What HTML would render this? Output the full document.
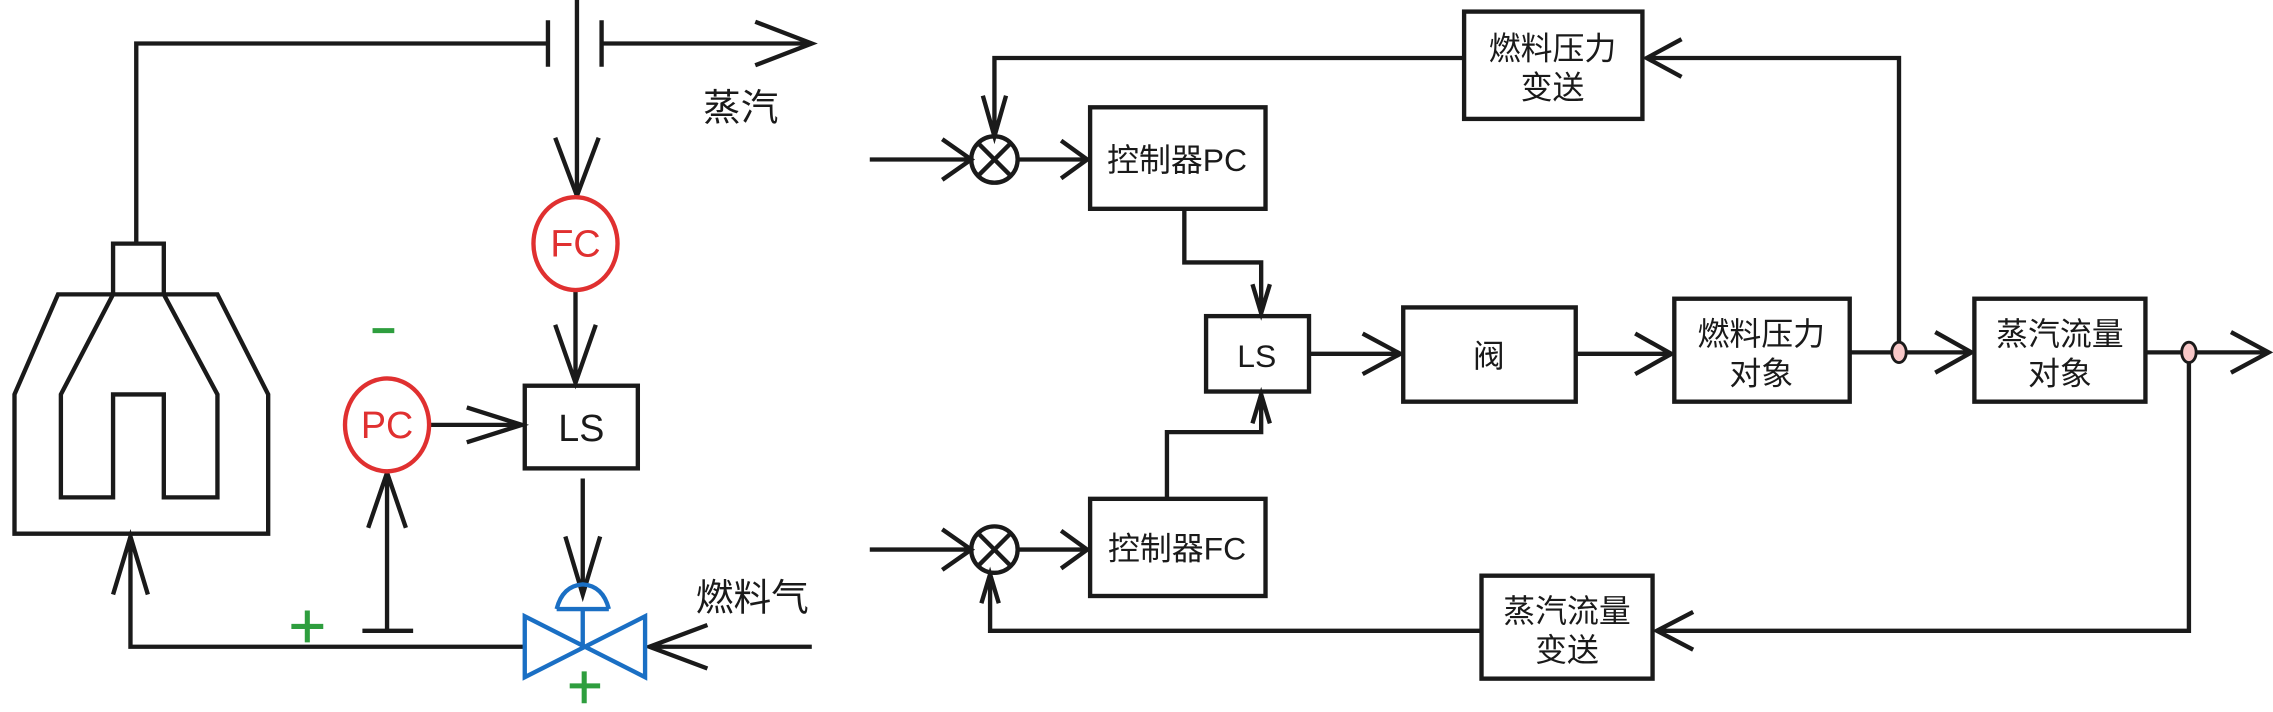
<!DOCTYPE html>
<html><head><meta charset="utf-8"><style>
html,body{margin:0;padding:0;background:#fff;}
svg{display:block;}
text{font-family:"Liberation Sans","Noto Sans CJK SC",sans-serif;}
</style></head><body>
<svg width="2273" height="712" viewBox="0 0 1568 491" preserveAspectRatio="none" xmlns="http://www.w3.org/2000/svg">
<g fill="none" stroke="#1a1a1a" stroke-width="3" stroke-linejoin="miter">
<path d="M94,168 V30 H378"/>
<path d="M378,14 V46 M415,14 V46 M398,0 V135 M415,30 H560"/>
<path d="M521,15 L560,30 L521,45"/>
<path d="M383,95 L398,135 L413,95"/>
<path d="M10,272 L40,203 H150 L185,272 V368 H10 Z"/>
<path d="M78,203 V168 H113 V203"/>
<path d="M78,203 L42,272 V343 H78 V272 H113 V343 H150 V272 L113,203"/>
<path d="M397,200 V264 M383,224 L397,264 L411,224"/>
<rect x="362" y="266" width="78" height="57"/>
<path d="M297,293 H360 M322,281 L360,293 L322,305"/>
<path d="M267,435 V326 M254,364 L267,326 L280,364 M250,435 H285"/>
<path d="M402,330 V410 M390,370 L402,410 L414,370"/>
<path d="M362,446 H90 V370 M78,410 L90,370 L102,410"/>
<path d="M560,446 H448 M488,431 L448,446 L488,461"/>

<path d="M600,110 H670 M650,96 L670,110 L650,124"/>
<path d="M702,110 H750 M732,97 L750,110 L732,123"/>
<circle cx="686" cy="110" r="16"/>
<path d="M675,99 L697,121 M697,99 L675,121"/>
<rect x="752" y="74" width="121" height="70"/>
<rect x="1010" y="8" width="123" height="74"/>
<path d="M1010,40 H686 V94 M678,66 L686,94 L694,66"/>
<path d="M1310,243 V40 H1136 M1160,27 L1136,40 L1160,53"/>
<path d="M817,144 V181 H870 V216 M864,196 L870,216 L876,196"/>
<rect x="832" y="218" width="71" height="52"/>
<path d="M903,244 H966 M940,230 L966,244 L940,258"/>
<rect x="968" y="212" width="119" height="65"/>
<path d="M1087,244 H1153 M1128,230 L1153,244 L1128,258"/>
<rect x="1155" y="206" width="121" height="71"/>
<path d="M1276,243 H1360 M1335,229 L1360,243 L1335,257"/>
<rect x="1362" y="206" width="118" height="71"/>
<path d="M1480,243 H1565 M1539,229 L1565,243 L1539,257"/>
<path d="M1510,243 V435 H1143 M1168,422 L1143,435 L1168,448"/>
<rect x="1022" y="397" width="118" height="71"/>
<path d="M1022,435 H683 V396 M677,416 L683,396 L689,416"/>
<path d="M600,379 H670 M650,365 L670,379 L650,393"/>
<path d="M702,379 H750 M732,366 L750,379 L732,392"/>
<circle cx="686" cy="379" r="16"/>
<path d="M675,368 L697,390 M697,368 L675,390"/>
<rect x="752" y="344" width="121" height="67"/>
<path d="M805,344 V298 H870 V272 M864,292 L870,272 L876,292"/>
</g>
<ellipse cx="1310" cy="243" rx="5" ry="7" fill="#f8c8c8" stroke="#1a1a1a" stroke-width="2"/>
<ellipse cx="1510" cy="243" rx="5" ry="7" fill="#f8c8c8" stroke="#1a1a1a" stroke-width="2"/>
<ellipse cx="397" cy="168" rx="29" ry="32" fill="#fff" stroke="#e03030" stroke-width="3"/>
<ellipse cx="267" cy="293" rx="29" ry="32" fill="#fff" stroke="#e03030" stroke-width="3"/>
<text x="397" y="177" font-size="26" fill="#e03030" text-anchor="middle">FC</text>
<text x="267" y="302" font-size="26" fill="#e03030" text-anchor="middle">PC</text>
<g fill="none" stroke="#1a6fc4" stroke-width="3">
<path d="M362,425 L362,467 L445,425 L445,467 Z"/>
<path d="M402,446 V420 M384,420 H420 M384,420 Q388,404 402,403 Q416,404 420,420"/>
</g>
<g stroke="#2e9e3e" stroke-width="3.5">
<path d="M257,228 H272"/>
<path d="M201,432 H223 M212,421 V443"/>
<path d="M393,473 H414 M403,463 V485"/>
</g>
<g fill="#1a1a1a" font-size="26">
<text x="485" y="83">蒸汽</text>
<text x="480" y="421">燃料气</text>
<text x="401" y="304" font-size="26" text-anchor="middle">LS</text>
</g>
<g fill="#1a1a1a" font-size="22" text-anchor="middle">
<text x="812" y="118">控制器PC</text>
<text x="812" y="386">控制器FC</text>
<text x="1071" y="41">燃料压力</text>
<text x="1071" y="68">变送</text>
<text x="867" y="253">LS</text>
<text x="1027" y="253">阀</text>
<text x="1215" y="238">燃料压力</text>
<text x="1215" y="265">对象</text>
<text x="1421" y="238">蒸汽流量</text>
<text x="1421" y="265">对象</text>
<text x="1081" y="429">蒸汽流量</text>
<text x="1081" y="456">变送</text>
</g>
</svg>
</body></html>
